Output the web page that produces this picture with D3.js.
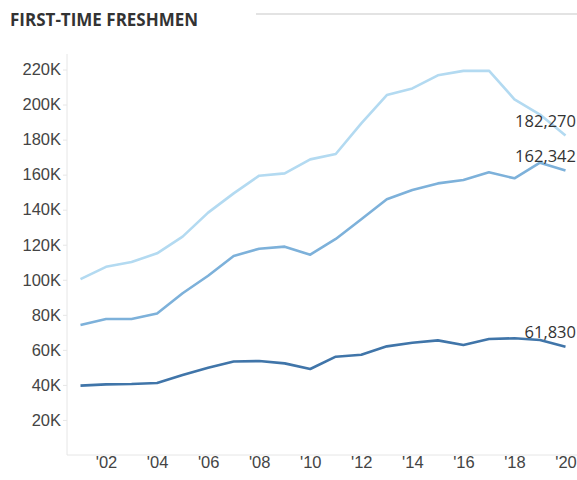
<!DOCTYPE html>
<html>
<head>
<meta charset="utf-8">
<script src="https://cdn.jsdelivr.net/npm/d3@7"></script>
<style>
  body { margin: 0; background: #fff; }
  svg { display: block; font-family: "Open Sans", "Noto Sans", sans-serif; }
  .tick text { fill: #444; font-size: 16.5px; }
  .endlabel { fill: #333; font-size: 16.5px; }
</style>
</head>
<body>
<div id="content"></div>
<script>
const width = 577;
const height = 480;

// chart values
const years = [2001, 2002, 2003, 2004, 2005, 2006, 2007, 2008, 2009, 2010,
               2011, 2012, 2013, 2014, 2015, 2016, 2017, 2018, 2019, 2020];
const upper = [100400, 107400, 110100, 115100, 124600, 138300, 149300, 159400, 160700, 168700,
               171800, 189300, 205400, 209200, 216700, 219200, 219300, 203000, 194300, 182270];
const middle = [74200, 77600, 77600, 80800, 92300, 102300, 113600, 117700, 118900, 114300,
                123300, 134500, 145900, 151200, 155000, 156900, 161300, 157900, 166800, 162342];
const lower = [39600, 40300, 40500, 41100, 45600, 49800, 53400, 53600, 52300, 49100,
               56100, 57200, 62000, 64100, 65400, 62800, 66200, 66600, 65600, 61830];
const yTicks = [20000, 40000, 60000, 80000, 100000, 120000, 140000, 160000, 180000, 200000, 220000];
const xTicks = [2002, 2004, 2006, 2008, 2010, 2012, 2014, 2016, 2018, 2020];

const series = [
    {name: "upper", values: upper, color: "#b3daf1"},
    {name: "middle", values: middle, color: "#7db1da"},
    {name: "lower", values: lower, color: "#4075a9"}
];

const margin = {top: 54, right: 12, left: 67, bottom: 25};

var svg = d3.select("#content").append("svg")
    .attr("width", width)
    .attr("height", height);

// title + rule
svg.append("text")
    .attr("x", 10)
    .attr("y", 25.5)
    .attr("font-size", 17)
    .attr("font-weight", 700)
    .attr("fill", "#333")
    .text("FIRST-TIME FRESHMEN");

svg.append("line")
    .attr("x1", 256).attr("x2", width)
    .attr("y1", 14).attr("y2", 14)
    .attr("stroke", "#e3e3e3")
    .attr("stroke-width", 2);

var x = d3.scaleLinear().domain([2001, 2020]).range([80.5, 565.5]);
var y = d3.scaleLinear().domain([0, 220000]).range([455, 69.5]);

var yAxis = svg.append("g")
    .attr("transform", `translate(${margin.left},0)`)
    .call(d3.axisLeft(y).tickValues(yTicks).tickSize(4).tickPadding(2)
        .tickFormat(d => (d / 1000) + "K"));
yAxis.select(".domain").attr("stroke", "#e6e6e6").attr("d", `M0,${margin.top}V455`);
yAxis.selectAll(".tick line").attr("stroke", "#e6e6e6");

var xAxis = svg.append("g")
    .attr("transform", "translate(0,455)")
    .call(d3.axisBottom(x).tickValues(xTicks).tickSize(0).tickPadding(1.5)
        .tickFormat(d => "'" + String(d).slice(2)));
xAxis.select(".domain").attr("stroke", "#e6e6e6").attr("d", `M${margin.left},0H${width}`);

var line = d3.line()
    .x((d, i) => x(years[i]))
    .y(d => y(d));

series.forEach(s => {
    svg.append("path")
        .datum(s.values)
        .attr("fill", "none")
        .attr("stroke", s.color)
        .attr("stroke-width", 2.6)
        .attr("stroke-linejoin", "round")
        .attr("d", line);

    var last = s.values[s.values.length - 1];
    svg.append("text")
        .attr("class", "endlabel")
        .attr("x", 576)
        .attr("y", y(last) - 9)
        .attr("text-anchor", "end")
        .text(d3.format(",")(last));
});
</script>
</body>
</html>
